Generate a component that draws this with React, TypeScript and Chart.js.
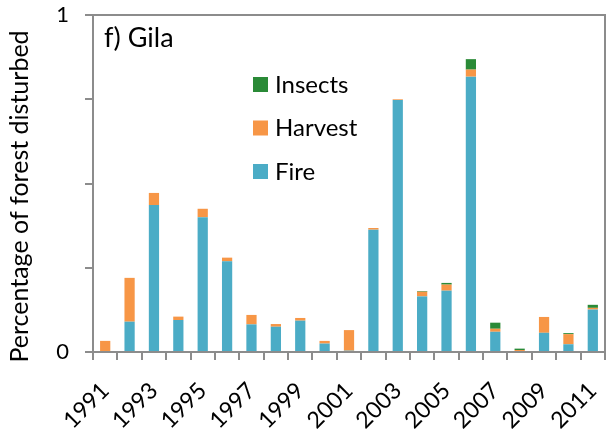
import React, { useEffect, useRef } from 'react';
import { Chart, registerables } from 'chart.js';
Chart.register(...registerables);

const years = ['1991','1992','1993','1994','1995','1996','1997','1998','1999','2000','2001','2002','2003','2004','2005','2006','2007','2008','2009','2010','2011'];
const fire =    [0.000, 0.090, 0.436, 0.095, 0.400, 0.269, 0.082, 0.075, 0.093, 0.025, 0.004, 0.363, 0.748, 0.165, 0.182, 0.817, 0.060, 0.000, 0.057, 0.023, 0.126];
const harvest = [0.033, 0.130, 0.036, 0.010, 0.025, 0.011, 0.028, 0.008, 0.008, 0.008, 0.061, 0.005, 0.002, 0.014, 0.018, 0.021, 0.009, 0.006, 0.047, 0.030, 0.005];
const insects = [0.000, 0.000, 0.000, 0.000, 0.000, 0.000, 0.000, 0.000, 0.000, 0.000, 0.000, 0.000, 0.000, 0.002, 0.005, 0.031, 0.018, 0.004, 0.000, 0.003, 0.009];
const yTickLabels: Record<string, string> = { '0': '0', '1': '1' };
const panelTitle = 'f) Gila';
const yTitle = 'Percentage of forest disturbed';

const AXIS = '#8c8c8c';
const FONT = 'Lato';

const overlay = {
  id: 'overlay',
  afterDraw(chart: any) {
    const { ctx, chartArea: a } = chart;
    ctx.save();
    ctx.strokeStyle = AXIS;
    ctx.lineWidth = 2;
    ctx.strokeRect(a.left, a.top, a.right - a.left, a.bottom - a.top);
    ctx.fillStyle = '#000';
    ctx.textAlign = 'left';
    ctx.textBaseline = 'alphabetic';
    ctx.font = `27px ${FONT}`;
    ctx.fillText(panelTitle, a.left + 11, a.top + 32);
    ctx.textBaseline = 'middle';
    const items = [...chart.data.datasets].reverse();
    items.forEach((ds: any, i: number) => {
      const cy = a.top + 69 + i * 43.5;
      ctx.fillStyle = ds.backgroundColor;
      ctx.fillRect(a.left + 160, cy - 7, 15, 15);
      ctx.fillStyle = '#000';
      ctx.font = `24px ${FONT}`;
      ctx.fillText(ds.label, a.left + 182, cy + 1);
    });
    // y axis title
    ctx.save();
    ctx.translate(28, 196.5);
    ctx.rotate(-Math.PI / 2);
    ctx.textAlign = 'center';
    ctx.textBaseline = 'alphabetic';
    ctx.font = `25px ${FONT}`;
    ctx.fillStyle = '#000';
    ctx.fillText(yTitle, 0, 0);
    ctx.restore();
    ctx.restore();
  },
};

export default function App() {
  const ref = useRef<HTMLCanvasElement | null>(null);
  useEffect(() => {
    if (!ref.current) return;
    const chart = new Chart(ref.current, {
      type: 'bar',
      data: {
        labels: years,
        datasets: [
          { label: 'Fire', data: fire, backgroundColor: '#4BACC6', barPercentage: 0.42, categoryPercentage: 1 },
          { label: 'Harvest', data: harvest, backgroundColor: '#F79646', barPercentage: 0.42, categoryPercentage: 1 },
          { label: 'Insects', data: insects, backgroundColor: '#2A8A37', barPercentage: 0.42, categoryPercentage: 1 },
        ],
      },
      options: {
        animation: false,
        responsive: true,
        maintainAspectRatio: false,
        layout: { padding: { top: 15, right: 4, left: 0, bottom: 0 } },
        plugins: { legend: { display: false }, tooltip: { enabled: false } },
        scales: {
          x: {
            stacked: true,
            offset: true,
            grid: { display: true, offset: true, drawOnChartArea: false, drawTicks: true, tickLength: 8, color: AXIS, lineWidth: 2 },
            border: { display: true, color: AXIS, width: 2 },
            ticks: {
              autoSkip: false,
              maxRotation: 45,
              minRotation: 45,
              color: '#000',
              font: { family: FONT, size: 23 },
              padding: 17,
              callback: (_v: any, i: number) => (i % 2 === 0 ? years[i] : ''),
            },
            afterFit: (s: any) => { s.height = 79; s.paddingLeft = 0; s.paddingRight = 0; },
          },
          y: {
            stacked: true,
            min: 0,
            max: 1,
            grid: { display: true, drawOnChartArea: false, drawTicks: true, tickLength: 8, color: AXIS, lineWidth: 2 },
            border: { display: true, color: AXIS, width: 2 },
            ticks: {
              stepSize: 0.25,
              color: '#000',
              font: { family: FONT, size: 22 },
              padding: 16,
              callback: (v: any) => yTickLabels[String(v)] ?? '',
            },
            title: { display: false },
            afterFit: (s: any) => { s.width = 93; s.paddingTop = 0; s.paddingBottom = 0; },
          },
        },
      },
      plugins: [overlay],
    });
    return () => chart.destroy();
  }, []);
  return (
    <div style={{ position: 'absolute', left: 0, top: 0, width: 609, height: 431, background: '#fff' }}>
      <canvas ref={ref} />
    </div>
  );
}
